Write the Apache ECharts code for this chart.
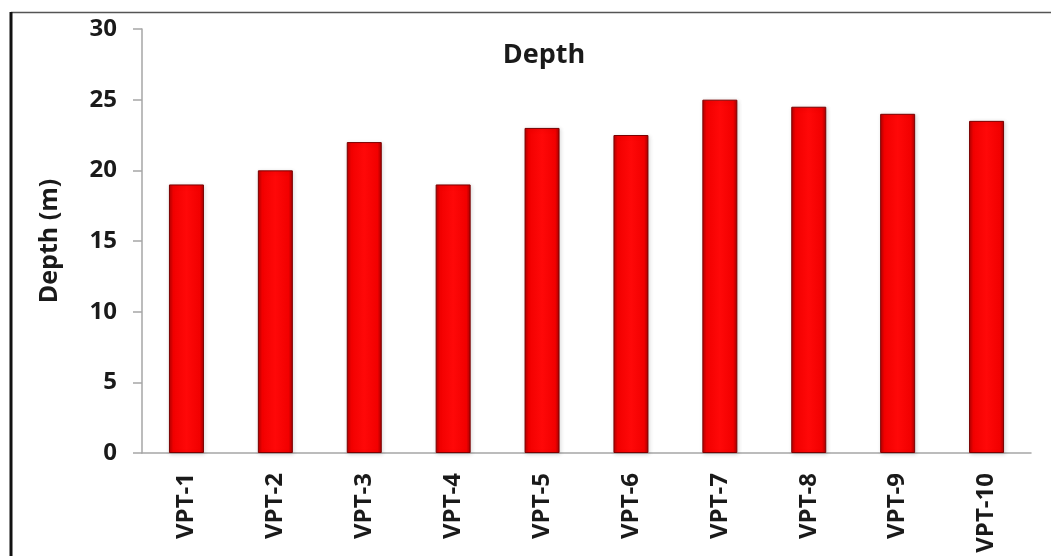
<!DOCTYPE html>
<html>
<head>
<meta charset="utf-8">
<script src="https://cdn.jsdelivr.net/npm/echarts@6/dist/echarts.min.js"></script>
<style>
  html, body { margin: 0; padding: 0; background: #fff; }
  #chart { width: 1051px; height: 556px; }
</style>
</head>
<body>
<div id="chart"></div>
<script>
// Survey points and their depth in metres
const categories = ['VPT-1', 'VPT-2', 'VPT-3', 'VPT-4', 'VPT-5', 'VPT-6', 'VPT-7', 'VPT-8', 'VPT-9', 'VPT-10'];
const depthValues = [19, 20, 22, 19, 23, 22.5, 25, 24.5, 24, 23.5];
const yTicks = { min: 0, max: 30, interval: 5 };

const font = '"Open Sans", "Liberation Sans", sans-serif';

const chart = echarts.init(document.getElementById('chart'), null, { renderer: 'canvas' });

// Red bars with darker edges for a bevelled look
const barFill = new echarts.graphic.LinearGradient(0, 0, 1, 0, [
  { offset: 0, color: '#b30000' },
  { offset: 0.12, color: '#f20000' },
  { offset: 0.5, color: '#ff0808' },
  { offset: 0.88, color: '#f20000' },
  { offset: 1, color: '#a80000' }
]);

chart.setOption({
  animation: false,
  backgroundColor: '#ffffff',
  title: {
    text: 'Depth',
    left: 539,
    top: 37,
    textAlign: 'center',
    textStyle: { fontFamily: font, fontWeight: 'bold', fontSize: 27, color: '#1a1a1a' }
  },
  grid: { left: 142, right: 20, top: 29, bottom: 103, containLabel: false },
  xAxis: {
    type: 'category',
    data: categories,
    axisLine: { show: true, lineStyle: { color: '#a6a6a6', width: 1.5 } },
    axisTick: { show: false },
    axisLabel: {
      rotate: 90,
      margin: 20,
      fontFamily: font,
      fontWeight: 'bold',
      fontSize: 24,
      color: '#1a1a1a'
    }
  },
  yAxis: {
    type: 'value',
    min: yTicks.min,
    max: yTicks.max,
    interval: yTicks.interval,
    name: 'Depth (m)',
    nameLocation: 'middle',
    nameGap: 80,
    nameRotate: 90,
    nameTextStyle: { fontFamily: font, fontWeight: 'bold', fontSize: 25, color: '#1a1a1a' },
    axisLine: { show: true, lineStyle: { color: '#a6a6a6', width: 1.5 } },
    axisTick: { show: true, inside: false, length: 9, lineStyle: { color: '#a6a6a6', width: 1.5 } },
    splitLine: { show: false },
    axisLabel: {
      margin: 25,
      fontFamily: font,
      fontWeight: 'bold',
      fontSize: 24,
      color: '#1a1a1a'
    }
  },
  series: [{
    type: 'bar',
    data: depthValues,
    barWidth: 35,
    itemStyle: {
      color: barFill,
      borderColor: '#7a0000',
      borderWidth: 1,
      shadowColor: 'rgba(0,0,0,0.15)',
      shadowBlur: 4,
      shadowOffsetX: 1,
      shadowOffsetY: 1
    }
  }],
  graphic: [
    {
      type: 'line',
      shape: { x1: 11, y1: 12.5, x2: 1051, y2: 12.5 },
      style: { stroke: '#555555', lineWidth: 1.5 }
    },
    {
      type: 'line',
      shape: { x1: 11, y1: 12, x2: 11, y2: 556 },
      style: { stroke: '#111111', lineWidth: 3 }
    }
  ]
});
</script>
</body>
</html>
